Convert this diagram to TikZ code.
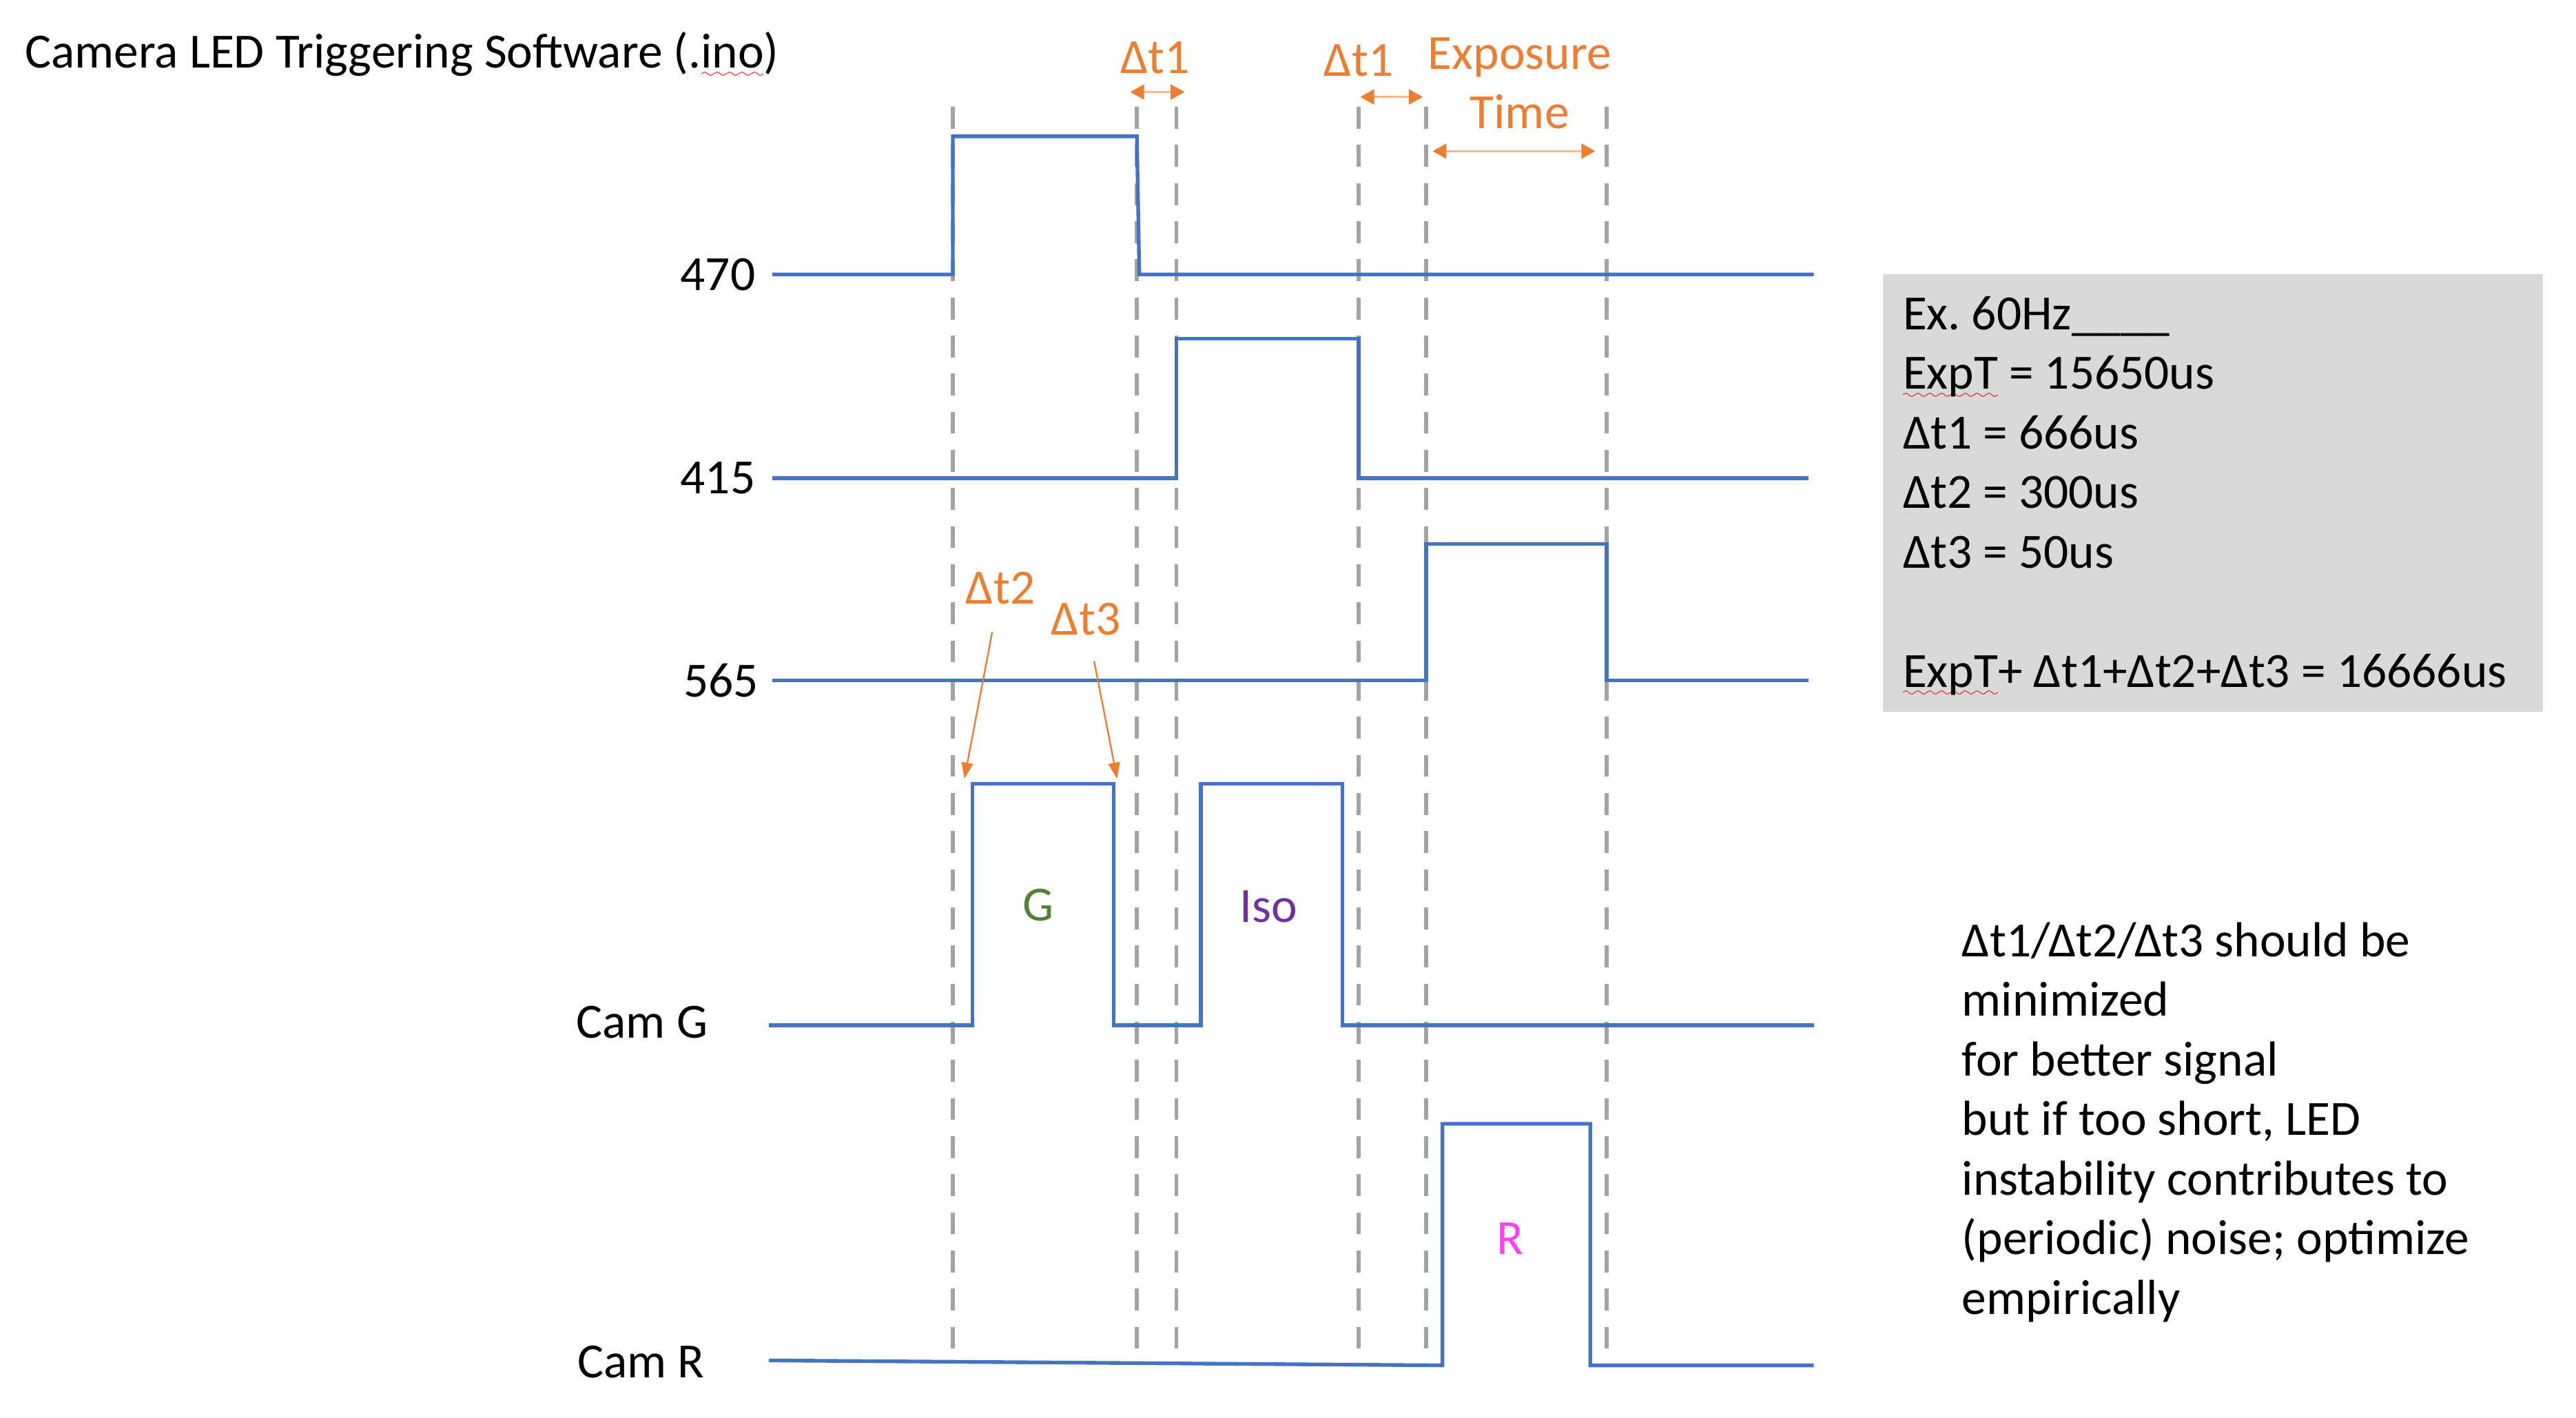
\documentclass[tikz,border=0pt]{standalone}
\usepackage{fontspec}
\setmainfont{Carlito}
\usepackage{xcolor}
\usepackage{tikz}
\usetikzlibrary{arrows.meta}

\definecolor{sigblue}{HTML}{4472C4}
\definecolor{dtorange}{HTML}{ED7D31}
\definecolor{guidegray}{HTML}{A3A3A3}
\definecolor{boxgray}{HTML}{D9D9D9}
\definecolor{ggreen}{HTML}{548235}
\definecolor{isopurple}{HTML}{7030A0}
\definecolor{rmagenta}{HTML}{FF40FF}

% red spell-check squiggle under a word
\font\wavefont=lasy6
\newcommand{\spell}[1]{\setbox0=\hbox{#1}\rlap{\textcolor{red}{\lower4pt\hbox to\wd0{\xleaders\hbox{\wavefont\char58}\hfil}}}\box0\relax}

\begin{document}
\begin{tikzpicture}[
    x=0.025cm, y=-0.025cm,
    every node/.style={font=\fontsize{21.3}{25.8}\selectfont, inner sep=0pt},
    trace/.style={draw=sigblue, line width=1.6pt},
    guide/.style={draw=guidegray, line width=1.6pt, dash pattern=on 9.5pt off 7pt},
    dtlabel/.style={text=dtorange},
    chanlabel/.style={anchor=east},
    gapspan/.style={draw=dtorange!55, line width=0.8pt,
        {Triangle[length=6pt,width=6.5pt,color=dtorange]}-{Triangle[length=6pt,width=6.5pt,color=dtorange]}},
    pointer/.style={draw=dtorange, line width=0.7pt, -{Triangle[length=7pt,width=5pt]}}
  ]
  \useasboundingbox (0,0) rectangle (1568,863);

  \node[anchor=base west] (title) at (15,41.5) {Camera LED Triggering Software (.\spell{ino})};

  % guide lines
  \foreach \x in {580,692,716,827,868,978}
    \draw[guide] (\x,65) -- (\x,822);

  % channels
  \node[chanlabel] (l470) at (460,167) {470};
  \node[chanlabel] (l415) at (460,291) {415};
  \node[chanlabel] (l565) at (462,414) {565};
  \node[chanlabel] (lcamg) at (431,622) {Cam G};
  \node[chanlabel] (lcamr) at (429,829) {Cam R};

  \draw[trace] (470,167) -- (580,167) -- (580,83) -- (692,83) -- (693.5,167) -- (1104,167);
  \draw[trace] (470,291) -- (716,291) -- (716,206) -- (827,206) -- (827,291) -- (1101,291);
  \draw[trace] (470,414) -- (868,414) -- (868,331) -- (978,331) -- (978,414) -- (1101,414);
  \draw[trace] (468,624) -- (592,624) -- (592,477) -- (678,477) -- (678,624) -- (731,624)
    -- (731,477) -- (817,477) -- (817,624) -- (1104,624);
  \draw[trace] (468,828) -- (878,831) -- (878,684) -- (968,684) -- (968,831) -- (1104,831);

  \node[text=ggreen] (gtxt) at (632,551) {G};
  \node[text=isopurple] (isotxt) at (772,552) {Iso};
  \node[text=rmagenta] (rtxt) at (919,754) {R};

  % timing gaps
  \node[dtlabel] (dt1a) at (703,35) {Δt1};
  \node[dtlabel] (dt1b) at (827,37) {Δt1};
  \node[dtlabel, anchor=base] (expo) at (925,42) {Exposure};
  \node[dtlabel] (expotime) at (925,68) {Time};
  \coordinate (dt1al) at (688,56);
  \coordinate (dt1ar) at (721,56);
  \coordinate (dt1bl) at (828,59);
  \coordinate (dt1br) at (866,59);
  \coordinate (expol) at (872,92);
  \coordinate (expor) at (971,92);
  \draw[gapspan] (dt1al) -- (dt1ar);
  \draw[gapspan] (dt1bl) -- (dt1br);
  \draw[gapspan] (expol) -- (expor);

  \node[dtlabel] (dt2) at (609,358) {Δt2};
  \node[dtlabel] (dt3) at (661,377) {Δt3};
  \coordinate (dt2tip) at (587,474);
  \coordinate (dt3tip) at (680,474);
  \draw[pointer, shorten <=12pt] (dt2) -- (dt2tip);
  \draw[pointer, shorten <=11pt] (dt3) -- (dt3tip);

  % example numbers
  \fill[boxgray] (1146,167) rectangle (1548,433);
  \node[anchor=north west, align=left] (numbers) at (1158,180) {%
    Ex.\ 60Hz\_\_\_\_\\
    \spell{ExpT} = 15650us\\
    Δt1 = 666us\\
    Δt2 = 300us\\
    Δt3 = 50us\\[25.8pt]
    \spell{ExpT}+ Δt1+Δt2+Δt3 = 16666us};

  \node[anchor=north west, align=left] (note) at (1194,561) {%
    Δt1/Δt2/Δt3 should be\\
    minimized\\
    for better signal\\
    but if too short, LED\\
    instability contributes to\\
    (periodic) noise; optimize\\
    empirically};
\end{tikzpicture}
\end{document}
